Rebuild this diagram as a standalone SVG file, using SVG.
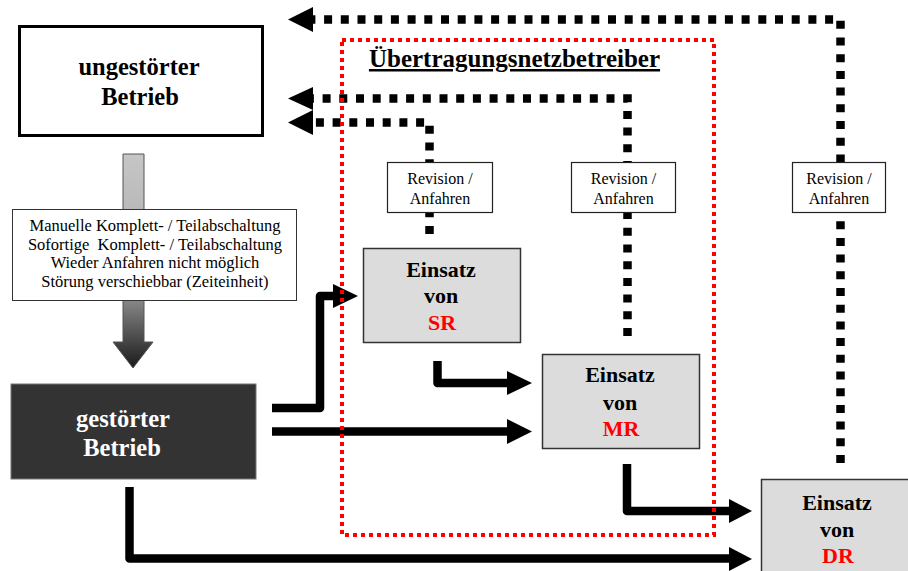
<svg xmlns="http://www.w3.org/2000/svg" width="908" height="571" viewBox="0 0 908 571">
<style>
text{font-family:"Liberation Serif","Times New Roman",serif;text-anchor:middle}
.big{font-size:24.5px;font-weight:bold}
.ein{font-size:22px;font-weight:bold}
.small{font-size:16.5px}
.rev{font-size:16px}
.red{fill:#ff0000}
.gbox{fill:#dcdcdc;stroke:#333;stroke-width:1.5}
.rbox{fill:#fff;stroke:#222;stroke-width:1.2}
.thick{fill:none;stroke:#000;stroke-width:8.5;stroke-linejoin:round}
.dot{fill:none;stroke:#000;stroke-width:8.5;stroke-dasharray:8 8.7}
.head{fill:#000}
</style>
<defs>
<linearGradient id="ga" x1="0" y1="154" x2="0" y2="368" gradientUnits="userSpaceOnUse">
<stop offset="0" stop-color="#c6c6c6"/>
<stop offset="0.25" stop-color="#bababa"/>
<stop offset="0.69" stop-color="#858585"/>
<stop offset="1" stop-color="#1a1a1a"/>
</linearGradient>
</defs>
<rect width="908" height="571" fill="#fff"/>

<g id="connectors">
<g id="dotted">
<path class="dot" d="M840.5 463 V19.5 H313"/>
<polygon class="head" points="288,19.5 313,7 313,32"/>
<path class="dot" d="M627.5 336 V98.5 H313"/>
<polygon class="head" points="288,98.5 313,87 313,110"/>
<path class="dot" d="M429.5 234 V122.5 H313"/>
<polygon class="head" points="288,122.5 313,110 313,135"/>
</g>
<g id="solid">
<path class="thick" d="M272 408 H320 V296 H334"/>
<polygon class="head" points="333,284 358,296 333,308"/>
<path class="thick" d="M272 431.5 H508"/>
<polygon class="head" points="507,419 532,431.5 507,444"/>
<path class="thick" d="M437.5 361 V383 H508"/>
<polygon class="head" points="507,371 532,383 507,395"/>
<path class="thick" d="M627 464 V511 H730"/>
<polygon class="head" points="729,499 752,511 729,523"/>
<path class="thick" d="M129.5 487 V558.5 H730"/>
<polygon class="head" points="729,547 752,559 729,571"/>
</g>
<polygon id="grayArrow" points="123,154 144,154 144,342 153,342 133,368 113,342 123,342" fill="url(#ga)" stroke="#555" stroke-width="1"/>
</g>

<g id="node-ungestoert">
<rect x="19.5" y="26.5" width="243" height="109" fill="#fff" stroke="#000" stroke-width="3"/>
<text class="big" x="139" y="75">ungestörter</text>
<text class="big" x="140" y="105">Betrieb</text>
</g>

<g id="node-bedingungen">
<rect x="12.5" y="209.5" width="284" height="91" fill="#fff" stroke="#333" stroke-width="1"/>
<text class="small" x="155" y="231">Manuelle Komplett- / Teilabschaltung</text>
<text class="small" x="155" y="249.5">Sofortige&#160; Komplett- / Teilabschaltung</text>
<text class="small" x="155" y="268">Wieder Anfahren nicht möglich</text>
<text class="small" x="155" y="287">Störung verschiebbar (Zeiteinheit)</text>
</g>

<g id="node-gestoert">
<rect x="11" y="384" width="245" height="95" fill="#333" stroke="#777" stroke-width="1"/>
<text class="big" x="123" y="427" fill="#fff">gestörter</text>
<text class="big" x="122" y="456" fill="#fff">Betrieb</text>
</g>

<g id="node-rev1">
<rect class="rbox" x="387.5" y="162.5" width="105" height="50"/>
<text class="rev" x="440" y="184">Revision /</text>
<text class="rev" x="440" y="204">Anfahren</text>
</g>
<g id="node-rev2">
<rect class="rbox" x="571.5" y="162.5" width="104" height="50"/>
<text class="rev" x="623.5" y="184">Revision /</text>
<text class="rev" x="623.5" y="204">Anfahren</text>
</g>
<g id="node-rev3">
<rect class="rbox" x="792.5" y="162.5" width="93" height="50"/>
<text class="rev" x="839" y="184">Revision /</text>
<text class="rev" x="839" y="204">Anfahren</text>
</g>

<g id="node-sr">
<rect class="gbox" x="363.5" y="248.5" width="157" height="94"/>
<text class="ein" x="441" y="277">Einsatz</text>
<text class="ein" x="441" y="303">von</text>
<text class="ein red" x="442" y="330">SR</text>
</g>
<g id="node-mr">
<rect class="gbox" x="542.5" y="354.5" width="157" height="94"/>
<text class="ein" x="620" y="382">Einsatz</text>
<text class="ein" x="620" y="410">von</text>
<text class="ein red" x="621" y="436">MR</text>
</g>
<g id="node-dr">
<rect class="gbox" x="761.5" y="479.5" width="157" height="94"/>
<text class="ein" x="837" y="510">Einsatz</text>
<text class="ein" x="837" y="537">von</text>
<text class="ein red" x="838" y="563">DR</text>
</g>

<g id="uenb">
<rect x="342" y="40" width="372" height="495" fill="none" stroke="#ff0000" stroke-width="4" stroke-dasharray="4 4"/>
<text class="big" x="514.5" y="67" style="font-size:25px;text-decoration:underline">Übertragungsnetzbetreiber</text>
</g>
</svg>
